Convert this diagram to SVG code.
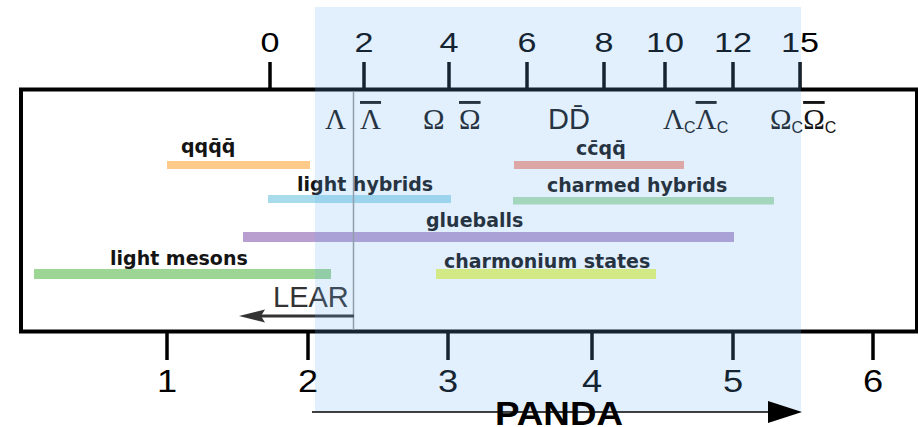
<svg xmlns="http://www.w3.org/2000/svg" width="918" height="427" viewBox="0 0 918 427">
  <style>
    .frame { fill: #ffffff; stroke: #000000; stroke-width: 4; }
    .tick { stroke: #000000; stroke-width: 3.5; }
    .num { font-family: "Liberation Sans", Arial, sans-serif; fill: #000000; text-anchor: middle; }
    .num-top { font-size: 28px; }
    .num-bot { font-size: 31px; }
    .lbl { font-family: "DejaVu Sans", Verdana, sans-serif; font-weight: bold; font-size: 19px; fill: #141414; }
    .ptl { font-family: "Liberation Serif", "Times New Roman", serif; font-size: 29px; fill: #141414; }
    .bar { text-decoration: overline; }
    .sans { font-family: "Liberation Sans", Arial, sans-serif; }
    .sub { font-family: "Liberation Sans", Arial, sans-serif; font-size: 16px; }
    .overlay { fill: rgb(110,175,245); opacity: 0.2; }
  </style>

  <rect width="918" height="427" fill="#ffffff"/>

  <!-- main frame -->
  <rect id="frame" class="frame" x="21" y="89.5" width="896" height="242"/>

  <!-- mass ranges -->
  <g id="tetraquark-light">
    <rect x="167" y="161" width="143" height="8" fill="#fdca8a"/>
    <text class="lbl" x="181" y="153">qqq&#x304;q&#x304;</text>
  </g>
  <g id="light-hybrids">
    <rect x="268" y="195" width="183" height="8" fill="#a8dcec"/>
    <text class="lbl" x="297" y="191">light hybrids</text>
  </g>
  <g id="glueballs">
    <rect x="243" y="232" width="491" height="10" fill="#b99fcf"/>
    <text class="lbl" x="426" y="226.5">glueballs</text>
  </g>
  <g id="light-mesons">
    <rect x="34" y="269" width="297" height="10" fill="#9cd594"/>
    <text class="lbl" x="110" y="265">light mesons</text>
  </g>
  <g id="tetraquark-charm">
    <rect x="514" y="161" width="170" height="8" fill="#f8a690"/>
    <text class="lbl" x="576" y="155">cc&#x304;qq&#x304;</text>
  </g>
  <g id="charmed-hybrids">
    <rect x="513" y="197" width="261" height="7.5" fill="#b2e0b0"/>
    <text class="lbl" x="547" y="191.5">charmed hybrids</text>
  </g>
  <g id="charmonium">
    <rect x="436" y="269" width="220" height="10" fill="#ecf86a"/>
    <text class="lbl" x="444" y="267.5">charmonium states</text>
  </g>

  <!-- pair thresholds -->
  <g id="thresholds">
    <text class="ptl" x="325" y="129">Λ</text>
    <text class="ptl" x="360" y="129"><tspan class="bar">Λ</tspan></text>
    <text class="ptl" x="423" y="129">Ω</text>
    <text class="ptl" x="459" y="129"><tspan class="bar">Ω</tspan></text>
    <text class="ptl sans" x="548" y="129" font-size="26">DD&#x304;</text>
    <text class="ptl" x="663" y="129">Λ<tspan class="sub" dy="4">C</tspan><tspan class="bar" dy="-4">Λ</tspan><tspan class="sub" dy="4">C</tspan></text>
    <text class="ptl" x="770" y="129">Ω<tspan class="sub" dy="4">C</tspan><tspan class="bar" dy="-4">Ω</tspan><tspan class="sub" dy="4">C</tspan></text>
  </g>

  <!-- upper axis: antiproton momentum -->
  <g id="axis-top">
    <line class="tick" x1="270" y1="62" x2="270" y2="89"/>
    <line class="tick" x1="364" y1="62" x2="364" y2="89"/>
    <line class="tick" x1="449" y1="62" x2="449" y2="89"/>
    <line class="tick" x1="527" y1="62" x2="527" y2="89"/>
    <line class="tick" x1="604" y1="62" x2="604" y2="89"/>
    <line class="tick" x1="665" y1="62" x2="665" y2="89"/>
    <line class="tick" x1="733" y1="62" x2="733" y2="89"/>
    <line class="tick" x1="800" y1="62" x2="800" y2="89"/>
    <text class="num num-top" transform="translate(270,51.7) scale(1.22,1)">0</text>
    <text class="num num-top" transform="translate(364,51.7) scale(1.22,1)">2</text>
    <text class="num num-top" transform="translate(449,51.7) scale(1.22,1)">4</text>
    <text class="num num-top" transform="translate(527,51.7) scale(1.22,1)">6</text>
    <text class="num num-top" transform="translate(604,51.7) scale(1.22,1)">8</text>
    <text class="num num-top" transform="translate(665,51.7) scale(1.22,1)">10</text>
    <text class="num num-top" transform="translate(733,51.7) scale(1.22,1)">12</text>
    <text class="num num-top" transform="translate(800,51.7) scale(1.22,1)">15</text>
  </g>

  <!-- lower axis: mass -->
  <g id="axis-bottom">
    <line class="tick" x1="167" y1="333" x2="167" y2="360"/>
    <line class="tick" x1="308" y1="333" x2="308" y2="360"/>
    <line class="tick" x1="448" y1="333" x2="448" y2="360"/>
    <line class="tick" x1="592" y1="333" x2="592" y2="360"/>
    <line class="tick" x1="733" y1="333" x2="733" y2="360"/>
    <line class="tick" x1="873" y1="333" x2="873" y2="360"/>
    <text class="num num-bot" transform="translate(167,391.7) scale(1.17,1)">1</text>
    <text class="num num-bot" transform="translate(308,391.7) scale(1.17,1)">2</text>
    <text class="num num-bot" transform="translate(448,391.7) scale(1.17,1)">3</text>
    <text class="num num-bot" transform="translate(592,391.7) scale(1.17,1)">4</text>
    <text class="num num-bot" transform="translate(733,391.7) scale(1.17,1)">5</text>
    <text class="num num-bot" transform="translate(873,391.7) scale(1.17,1)">6</text>
  </g>

  <!-- LEAR range -->
  <g id="lear">
    <line x1="353.5" y1="91.5" x2="353.5" y2="330" stroke="#9a9a9a" stroke-width="1.5"/>
    <line x1="354" y1="316" x2="258" y2="316" stroke="#333333" stroke-width="3"/>
    <polygon points="239,316 265,309.5 261,316 265,322.5" fill="#333333"/>
    <text x="273" y="307" font-family="'Liberation Sans', Arial, sans-serif" font-size="29" fill="#333333">LEAR</text>
  </g>

  <!-- PANDA range -->
  <rect id="panda-band" class="overlay" x="315" y="7" width="486" height="405"/>
  <g id="panda">
    <line x1="312" y1="412" x2="770" y2="412" stroke="#000000" stroke-width="1.5"/>
    <polygon points="768,401 802,412 768,423" fill="#000000"/>
    <text x="495" y="425" font-family="'Liberation Sans', Arial, sans-serif" font-weight="bold" font-size="34" textLength="128" lengthAdjust="spacingAndGlyphs" fill="#000000">PANDA</text>
  </g>
</svg>
